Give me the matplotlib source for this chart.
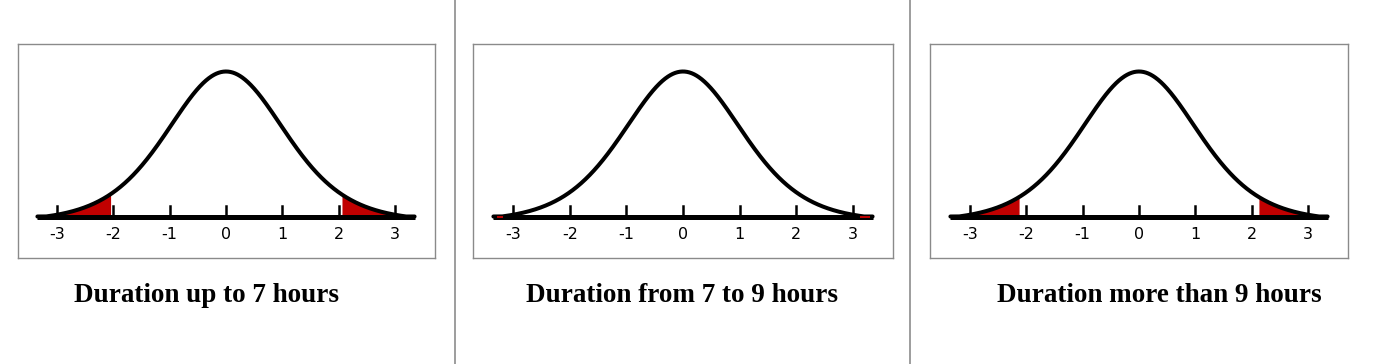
import numpy as np
import matplotlib
matplotlib.use("Agg")
import matplotlib.pyplot as plt
from matplotlib.lines import Line2D

# ---- data ----
# bell curve shape (heavy-shouldered bell meeting the axis near +-3.2)
loc, scale, dof, foot = 0.0, 1.07, 8.0, 3.2
tick_values = [-3, -2, -1, 0, 1, 2, 3]
tick_labels = ["-3", "-2", "-1", "0", "1", "2", "3"]
titles = ["Duration up to 7 hours", "Duration from 7 to 9 hours", "Duration more than 9 hours"]
title_centers = [207, 682, 1159]
# shaded (red) ranges per panel, in z units
shaded = [
    [(-3.0, -2.05), (2.06, 3.0)],
    [(-3.28, -3.18), (3.13, 3.30)],
    [(-3.0, -2.13), (2.13, 3.0)],
]
curve_range = (-3.35, 3.35)

# ---- layout (pixels) ----
W, H = 1377, 364
DPI = 100
fig = plt.figure(figsize=(W / DPI, H / DPI), dpi=DPI)
fig.patch.set_facecolor("white")

# box left, right, zero-x, px per unit
boxes = [(18, 435, 226, 56.3), (473, 893, 683, 56.6), (930, 1348, 1139, 56.3)]
box_top, box_bot = 44, 258
axis_y, peak_y = 216.5, 71.5

def _t(x):
    z = (np.asarray(x, dtype=float) - loc) / scale
    return (1 + z ** 2 / dof) ** (-(dof + 1) / 2)

def bell(x):
    base = _t(loc + foot)
    return np.clip((_t(x) - base) / (1 - base), 0, None)

yscale = (axis_y - peak_y) / bell(loc)

red = "#c00000"
for i, (l, r, z0, ppu) in enumerate(boxes):
    ax = fig.add_axes([l / W, 1 - box_bot / H, (r - l) / W, (box_bot - box_top) / H])
    ax.set_xlim((l - z0) / ppu, (r - z0) / ppu)
    ax.set_ylim((axis_y - box_bot) / yscale, (axis_y - box_top) / yscale)
    ax.set_xticks([]); ax.set_yticks([])
    for s in ax.spines.values():
        s.set_color("#8a8a8a"); s.set_linewidth(1.0)

    # axis line
    ax.plot(curve_range, [0, 0], color="black", lw=3.6, solid_capstyle="butt", zorder=3)
    # ticks
    th = 11 / yscale
    for t in tick_values:
        ax.plot([t, t], [0, th], color="black", lw=1.8, zorder=3)
    for t, lab in zip(tick_values, tick_labels):
        ax.text(t, -18 / yscale, lab, ha="center", va="center", fontsize=11.5,
                family="DejaVu Sans", color="black")

    # shaded tails
    for a, b in shaded[i]:
        xs = np.linspace(a, b, 100)
        if i == 1:
            ax.plot([a, b], [0, 0], color=red, lw=1.4, zorder=6, solid_capstyle="butt")
        else:
            ax.fill_between(xs, 0, bell(xs), color=red, lw=0, zorder=2)

    # curve
    xs = np.linspace(curve_range[0], curve_range[1], 800)
    ax.plot(xs, bell(xs), color="black", lw=2.9, zorder=5, solid_capstyle="round")

    # title
    fig.text(title_centers[i] / W, 1 - 296 / H, titles[i], ha="center", va="center",
             fontsize=19.5, fontweight="bold", family="Liberation Serif")

# separators
for x in (455, 910):
    fig.add_artist(Line2D([x / W, x / W], [0, 1], color="#8c8c8c", lw=1.2))

fig.savefig("out.png", dpi=DPI, facecolor="white")
